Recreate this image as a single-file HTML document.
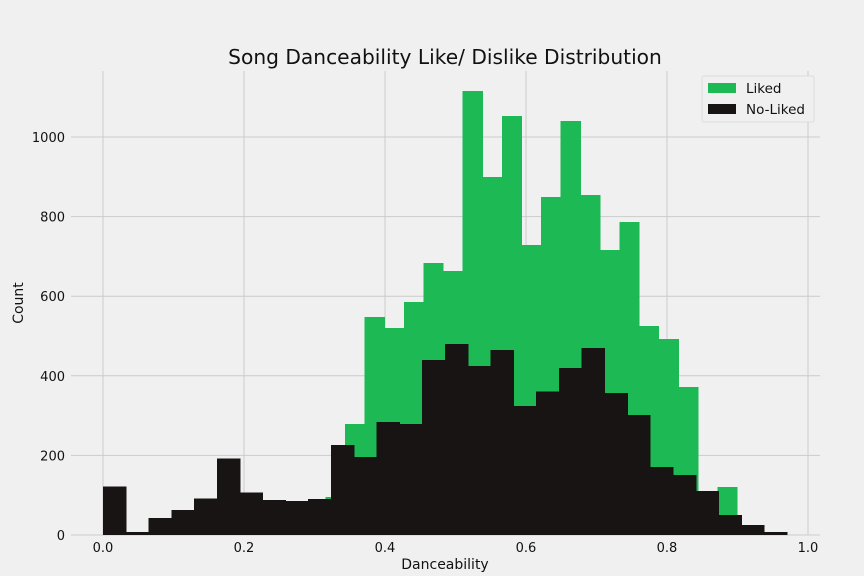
<!DOCTYPE html>
<html><head><meta charset="utf-8"><style>
body{margin:0;background:#f0f0f0;}
svg{display:block;font-family:"DejaVu Sans","Liberation Sans",sans-serif;}
</style></head><body>
<svg id="chart" width="864" height="576">
<rect width="864" height="576" fill="#f0f0f0"/>
<g id="grid"></g><g id="bars" shape-rendering="crispEdges"></g><g id="ticks"></g>
<text x="445" y="64" font-size="20.2" text-anchor="middle" fill="#111">Song Danceability Like/ Dislike Distribution</text>
<text x="445" y="569" font-size="14" text-anchor="middle" fill="#111">Danceability</text>
<text transform="translate(23,303) rotate(-90)" font-size="14" text-anchor="middle" fill="#111">Count</text>
<g>
<rect x="702" y="76" width="112" height="46" fill="#f0f0f0" stroke="#dcdcdc" rx="2"/>
<rect x="708" y="83" width="28" height="10" fill="#1db954"/>
<text x="746" y="93" font-size="13.5" fill="#111">Liked</text>
<rect x="708" y="104" width="28" height="10" fill="#191414"/>
<text x="746" y="114" font-size="13.5" fill="#111">No-Liked</text>
</g>
</svg>
<script>
const likedStart = 0.3155;
const likedWidth = 0.0278;
const likedCounts = [95,279,548,520,585,683,663,1115,900,1053,729,849,1040,854,716,786,525,492,372,100,120];
const dislikedWidth = 0.97/30;
const dislikedCounts = [122,8,43,63,92,192,107,88,85,90,226,196,284,279,440,480,425,465,324,360,420,470,357,301,171,151,110,50,25,7];
const xTicks = [0,0.2,0.4,0.6,0.8,1.0];
const xTickLabels = ["0.0","0.2","0.4","0.6","0.8","1.0"];
const yTicks = [0,200,400,600,800,1000];

const NS="http://www.w3.org/2000/svg";
const X=v=>103+v*705;
const Y=v=>535-v*0.398;
function mk(tag,attrs,parent){const e=document.createElementNS(NS,tag);for(const k in attrs)e.setAttribute(k,attrs[k]);document.getElementById(parent).appendChild(e);return e;}
xTicks.forEach((t,i)=>{
  const l=mk('line',{x1:X(t),x2:X(t),y1:71,y2:535,stroke:'#cbcbcb','stroke-width':1},'grid');
  
  
  const tx=mk('text',{x:X(t),y:552,'font-size':13,'text-anchor':'middle',fill:'#111'},'ticks');
  tx.textContent=xTickLabels[i];
  
  
});
yTicks.forEach(t=>{
  const l=mk('line',{x1:71,x2:820,y1:Y(t),y2:Y(t),stroke:'#cbcbcb','stroke-width':1},'grid');
  
  
  const tx=mk('text',{x:65,y:Y(t)+5,'font-size':13,'text-anchor':'end',fill:'#111'},'ticks');
  tx.textContent=String(t);
  
  
});
likedCounts.forEach((c,i)=>{
  const x0=X(likedStart+i*likedWidth),x1=X(likedStart+(i+1)*likedWidth);
  const r=mk('rect',{x:x0,y:Y(c),width:x1-x0+0.6,height:Y(0)-Y(c),fill:'#1db954'},'bars');
  
  
});
dislikedCounts.forEach((c,i)=>{
  const x0=X(i*dislikedWidth),x1=X((i+1)*dislikedWidth);
  const r=mk('rect',{x:x0,y:Y(c),width:x1-x0+0.6,height:Y(0)-Y(c),fill:'#191414'},'bars');
  
  
});
</script>
</body></html>
